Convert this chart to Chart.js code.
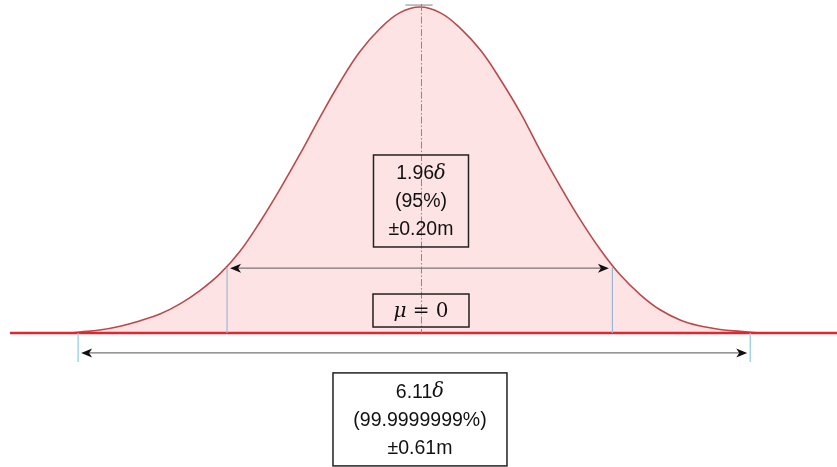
<!DOCTYPE html>
<html>
<head>
<meta charset="utf-8">
<script src="https://cdn.jsdelivr.net/npm/chart.js@4/dist/chart.umd.min.js"></script>
<style>
  html, body { margin: 0; padding: 0; background: #fff; }
  #wrap { width: 837px; height: 467px; position: relative; }
</style>
</head>
<body>
<div id="wrap"><canvas id="bellChart"></canvas></div>
<script>
// curve (x in sigma units, y relative to peak height)
const curveX = [-3.60, -3.50, -3.30, -3.09, -2.89, -2.68, -2.47, -2.27, -2.06, -1.86, -1.65, -1.45, -1.24, -1.04,
                -0.83, -0.63, -0.42, -0.22, -0.01, 0.20, 0.40, 0.61, 0.81, 1.02, 1.22, 1.43, 1.63, 1.84,
                2.04, 2.25, 2.45, 2.66, 2.86, 3.07, 3.28, 3.48];
const curveY = [0.000, 0.003, 0.009, 0.021, 0.037, 0.058, 0.090, 0.130, 0.183, 0.250, 0.342, 0.440, 0.550, 0.660,
                0.770, 0.862, 0.934, 0.982, 1.000, 0.982, 0.936, 0.868, 0.780, 0.676, 0.562, 0.450, 0.350, 0.256,
                0.180, 0.118, 0.072, 0.040, 0.022, 0.011, 0.005, 0.000];

const baselineX = [-4.22, 4.30];
const innerBounds = [-1.96, 1.96];
const innerHeights = [0.202, 0.202];
const outerBounds = [-3.52, 3.38];
const meanX = 0;
const peakTop = 1.009;

const innerLabel = ['1.96', '(95%)', '\u00b10.20m'];
const outerLabel = ['6.11', '(99.9999999%)', '\u00b10.61m'];
const meanLabel = ['\u03bc', ' = 0'];

const curvePoints = curveX.map((x, i) => ({ x: x, y: curveY[i] }));
const baselinePoints = baselineX.map(x => ({ x: x, y: 0 }));

function arrowHead(ctx, x, y, dir) {
  ctx.beginPath();
  ctx.moveTo(x, y);
  ctx.lineTo(x - dir * 11, y - 4.5);
  ctx.lineTo(x - dir * 8, y);
  ctx.lineTo(x - dir * 11, y + 4.5);
  ctx.closePath();
  ctx.fillStyle = '#111';
  ctx.fill();
}

function drawArrow(ctx, x1, x2, y) {
  ctx.save();
  ctx.strokeStyle = '#777';
  ctx.lineWidth = 1.2;
  ctx.beginPath();
  ctx.moveTo(x1 + 4, y);
  ctx.lineTo(x2 - 4, y);
  ctx.stroke();
  arrowHead(ctx, x1, y, -1);
  arrowHead(ctx, x2, y, 1);
  ctx.restore();
}

function drawBox(ctx, cx, cy, w, h, fill) {
  ctx.save();
  if (fill) {
    ctx.fillStyle = fill;
    ctx.fillRect(cx - w / 2, cy - h / 2, w, h);
  }
  ctx.strokeStyle = '#222';
  ctx.lineWidth = 1.5;
  ctx.strokeRect(cx - w / 2, cy - h / 2, w, h);
  ctx.restore();
}

// first line has a number followed by an italic delta
function drawLabelLines(ctx, cx, cy, lines) {
  const gap = 28;
  const font = '19.5px "Liberation Sans", Arial, sans-serif';
  const italic = 'italic 19.5px "DejaVu Serif", serif';
  ctx.save();
  ctx.fillStyle = '#111';
  ctx.textBaseline = 'middle';
  lines.forEach((t, i) => {
    const y = cy + (i - 1) * gap;
    if (i === 0) {
      ctx.font = font;
      const w1 = ctx.measureText(t).width;
      ctx.font = italic;
      const w2 = ctx.measureText('\u03b4').width;
      const start = cx - (w1 + w2) / 2;
      ctx.textAlign = 'left';
      ctx.font = font;
      ctx.fillText(t, start, y);
      ctx.font = italic;
      ctx.fillText('\u03b4', start + w1, y);
    } else {
      ctx.font = font;
      ctx.textAlign = 'center';
      ctx.fillText(t, cx, y);
    }
  });
  ctx.restore();
}

const annotations = {
  id: 'annotations',
  afterDatasetsDraw(chart) {
    const ctx = chart.ctx;
    const xs = chart.scales.x, ys = chart.scales.y;
    const px = v => xs.getPixelForValue(v);
    const py = v => ys.getPixelForValue(v);

    // centre dash-dot line
    ctx.save();
    ctx.strokeStyle = '#888';
    ctx.lineWidth = 1;
    ctx.setLineDash([7, 2, 1.5, 2]);
    ctx.beginPath();
    ctx.moveTo(px(meanX) + 0.5, py(peakTop));
    ctx.lineTo(px(meanX) + 0.5, py(0));
    ctx.stroke();
    ctx.restore();

    // small grey bar at the peak
    ctx.save();
    ctx.strokeStyle = 'rgba(120,120,120,0.6)';
    ctx.lineWidth = 1.5;
    ctx.beginPath();
    ctx.moveTo(px(-0.16), py(peakTop) + 1);
    ctx.lineTo(px(0.12), py(peakTop) + 1);
    ctx.stroke();
    ctx.restore();

    // inner verticals
    ctx.save();
    ctx.strokeStyle = '#9bb7d6';
    ctx.lineWidth = 1.2;
    innerBounds.forEach((b, i) => {
      ctx.beginPath();
      ctx.moveTo(px(b) + (i ? 0.5 : -3), py(innerHeights[i]));
      ctx.lineTo(px(b) + (i ? 0.5 : -3), py(0));
      ctx.stroke();
    });
    // outer verticals
    ctx.strokeStyle = '#8ccbdc';
    outerBounds.forEach(b => {
      ctx.beginPath();
      ctx.moveTo(px(b), py(0));
      ctx.lineTo(px(b), py(-0.089));
      ctx.stroke();
    });
    ctx.restore();

    drawArrow(ctx, px(innerBounds[0]), px(innerBounds[1]) - 3, py(innerHeights[0]) + 1);
    drawArrow(ctx, px(outerBounds[0]) + 3, px(outerBounds[1]) - 3, py(-0.061));

    // boxes
    const cx = px(meanX);
    drawBox(ctx, cx, py(0.405), 95, 92, null);
    drawLabelLines(ctx, cx, py(0.405) + 1, innerLabel);

    drawBox(ctx, cx, py(0.069), 96, 33, null);
    ctx.save();
    ctx.fillStyle = '#111';
    ctx.textBaseline = 'middle';
    ctx.textAlign = 'left';
    ctx.font = 'italic 20px "DejaVu Serif", serif';
    const wm = ctx.measureText(meanLabel[0]).width;
    ctx.font = '20px "DejaVu Serif", serif';
    const we = ctx.measureText(meanLabel[1]).width;
    const sx = cx - (wm + we) / 2;
    ctx.font = 'italic 20px "DejaVu Serif", serif';
    ctx.fillText(meanLabel[0], sx, py(0.069) + 1);
    ctx.font = '20px "DejaVu Serif", serif';
    ctx.fillText(meanLabel[1], sx + wm, py(0.069) + 1);
    ctx.restore();

    drawBox(ctx, cx - 1, py(-0.265), 174, 93, '#fff');
    drawLabelLines(ctx, cx - 1, py(-0.265) + 1, outerLabel);
  }
};

new Chart(document.getElementById('bellChart').getContext('2d'), {
  type: 'scatter',
  data: {
    datasets: [
      {
        data: baselinePoints,
        showLine: true,
        borderColor: '#e3262d',
        borderWidth: 2.5,
        pointRadius: 0,
        order: 0
      },
      {
        data: curvePoints,
        showLine: true,
        fill: 'origin',
        backgroundColor: 'rgba(246, 140, 140, 0.24)',
        borderColor: '#b94a4c',
        borderWidth: 1.6,
        pointRadius: 0,
        tension: 0.4,
        order: 1
      }
    ]
  },
  options: {
    responsive: true,
    maintainAspectRatio: false,
    animation: false,
    layout: { padding: 0 },
    plugins: { legend: { display: false }, tooltip: { enabled: false } },
    scales: {
      x: { type: 'linear', display: false, min: -4.322, max: 4.271 },
      y: { type: 'linear', display: false, min: -0.411, max: 1.0215 }
    }
  },
  plugins: [annotations]
});
</script>
</body>
</html>
